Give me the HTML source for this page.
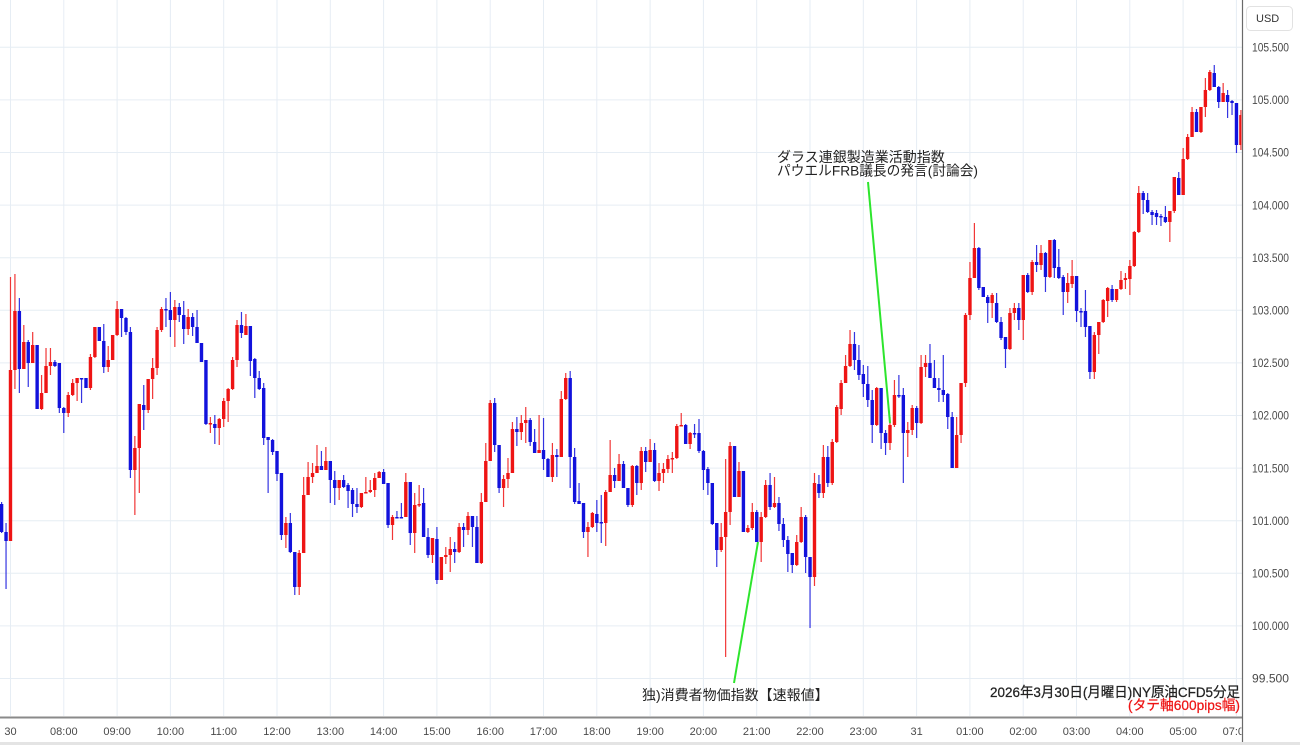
<!DOCTYPE html>
<html><head><meta charset="utf-8">
<style>
html,body{margin:0;padding:0;background:#fff;width:1300px;height:745px;overflow:hidden}
svg{display:block}
</style></head>
<body>
<svg id="c" width="1300" height="745" viewBox="0 0 1300 745" xmlns="http://www.w3.org/2000/svg" font-family="'Liberation Sans','Noto Sans CJK JP',sans-serif">
<defs><clipPath id="plot"><rect x="0" y="0" width="1241.5" height="716"/></clipPath>
<clipPath id="tax"><rect x="0" y="718" width="1241.5" height="27"/></clipPath></defs>
<rect x="0" y="0" width="1300" height="745" fill="#fff"/>
<g id="grid" stroke="#e6edf4" stroke-width="1"></g>
<g id="candles" clip-path="url(#plot)"></g>
<!-- green annotation lines -->
<line x1="868" y1="182" x2="890" y2="423" stroke="#2de52d" stroke-width="2"/>
<line x1="758" y1="542" x2="734" y2="683" stroke="#2de52d" stroke-width="2"/>
<!-- annotations -->
<g font-size="14" fill="#222">
<text x="777" y="162">ダラス連銀製造業活動指数</text>
<text x="777" y="175.5" textLength="201" lengthAdjust="spacingAndGlyphs">パウエルFRB議長の発言(討論会)</text>
<text x="642" y="700">独)消費者物価指数【速報値】</text>
<text x="990" y="697" textLength="250" lengthAdjust="spacingAndGlyphs" stroke="#222" stroke-width="0.25">2026年3月30日(月曜日)NY原油CFD5分足</text>
<text x="1128" y="710" fill="#ee1515" stroke="#ee1515" stroke-width="0.25" textLength="112" lengthAdjust="spacingAndGlyphs">(タテ軸600pips幅)</text>
</g>
<!-- axes -->
<line x1="0" y1="717.5" x2="1242" y2="717.5" stroke="#8a8a8a" stroke-width="2"/>
<line x1="1242.5" y1="0" x2="1242.5" y2="745" stroke="#6a6a6a" stroke-width="1.2"/>
<line x1="0" y1="743.5" x2="1300" y2="743.5" stroke="#e4e4e4" stroke-width="3"/>
<g id="plabels" font-size="12" fill="#4a4a4a"></g>
<g id="tlabels" font-size="11" fill="#4a4a4a" text-anchor="middle" clip-path="url(#tax)"></g>
<rect x="1246.5" y="6.5" width="46" height="24" rx="4" ry="4" fill="#fff" stroke="#e2e2e2" stroke-width="1"/>
<text x="1256" y="22" font-size="11" fill="#333">USD</text>
</svg>
<script>
(function(){
var NS="http://www.w3.org/2000/svg";
function el(n,a,p){var e=document.createElementNS(NS,n);for(var k in a)e.setAttribute(k,a[k]);p.appendChild(e);return e;}
var grid=document.getElementById('grid'),cg=document.getElementById('candles'),pl=document.getElementById('plabels'),tl=document.getElementById('tlabels');
var prices=["105.500","105.000","104.500","104.000","103.500","103.000","102.500","102.000","101.500","101.000","100.500","100.000","99.500"];
for(var i=0;i<prices.length;i++){var y=47.3+i*52.6;
 el('line',{x1:0,y1:y,x2:1242,y2:y},grid);
 var t=el('text',{x:1252,y:y+4.2,textLength:37,lengthAdjust:'spacingAndGlyphs'},pl);t.textContent=prices[i];}
var tlab=["30","08:00","09:00","10:00","11:00","12:00","13:00","14:00","15:00","16:00","17:00","18:00","19:00","20:00","21:00","22:00","23:00","31","01:00","02:00","03:00","04:00","05:00","07:00"];
for(var h=0;h<tlab.length;h++){var x=10.5+53.3*h;
 el('line',{x1:x,y1:0,x2:x,y2:716},grid);
 var t2=el('text',{x:x,y:735},tl);t2.textContent=tlab[h];}
var D=[504,532,502,533, 532,541,523,589, 541,370,277,541, 370,311,274,389, 311,369,298,393, 369,342,325,369, 342,363,340,387, 363,345,332,363, 345,409,345,409, 409,393,375,410,
393,366,348,393, 366,362,348,375, 362,366,360,367, 363,408,363,413, 408,413,407,433, 413,395,392,417, 395,383,379,396, 383,378,378,401, 378,379,378,403, 378,388,378,388,
388,357,354,390, 357,327,327,358, 327,341,327,341, 341,367,324,373, 367,360,346,372, 360,335,335,360, 335,309,301,336, 309,318,309,337, 318,332,317,335, 332,470,327,478,
470,448,436,515, 448,404,404,493, 405,410,385,430, 410,379,379,413, 379,368,358,399, 368,330,327,375, 330,309,307,332, 309,310,298,327, 310,320,292,337, 320,307,300,347,
307,315,303,322, 315,329,301,344, 329,317,309,335, 317,327,313,336, 327,343,310,343, 343,362,343,362, 360,424,360,425, 424,423,417,433, 424,428,415,444, 428,419,418,445,
419,401,398,427, 401,389,388,422, 389,360,357,390, 360,325,320,367, 325,333,312,338, 335,326,314,335, 326,361,326,376, 359,378,358,398, 378,389,371,390, 388,438,383,445,
437,440,437,493, 440,452,439,455, 451,474,451,481, 473,535,473,540, 535,523,517,548, 523,552,513,553, 552,587,552,595, 587,553,550,595, 553,495,477,553, 495,477,462,495,
477,473,463,483, 473,466,445,473, 466,470,451,470, 470,461,447,470, 461,480,461,503, 480,488,471,505, 488,480,480,500, 480,487,475,488, 485,491,483,508, 490,504,488,517,
504,507,488,513, 507,493,493,508, 493,492,477,493, 492,490,480,493, 490,478,473,497, 478,472,471,478, 472,484,469,484, 483,525,483,528, 525,517,515,540, 517,517,511,518,
517,517,503,517, 517,482,473,517, 482,533,482,545, 533,505,493,553, 505,504,485,507, 503,537,488,537, 537,555,528,558, 555,538,538,563, 539,580,527,584, 580,557,557,580,
557,555,547,564, 555,549,537,572, 549,552,542,563, 552,527,523,553, 527,530,523,547, 530,516,512,535, 516,527,516,547, 527,563,516,563, 563,502,493,564, 502,461,443,502,
461,403,400,461, 403,445,398,452, 445,488,445,493, 488,479,475,507, 479,473,458,488, 473,429,422,473, 429,432,417,446, 432,423,415,440, 423,420,407,443, 420,442,418,446,
442,453,429,453, 453,450,415,453, 450,459,418,470, 459,477,458,477, 477,455,443,482, 455,457,449,477, 457,399,391,457, 399,378,373,400, 378,457,371,488, 457,502,448,504,
501,504,483,504, 503,532,503,538, 532,527,522,557, 527,513,512,528, 514,523,500,532, 522,523,495,543, 523,492,490,546, 492,475,440,492, 475,481,468,488, 481,464,454,481,
464,488,461,488, 488,505,488,507, 505,466,465,507, 466,483,465,495, 483,451,447,490, 451,462,447,472, 462,450,439,462, 450,481,443,482, 481,473,463,491, 473,469,463,483,
469,459,455,473, 459,458,452,473, 458,426,424,459, 426,425,413,426, 425,444,424,444, 444,433,432,449, 433,433,424,438, 433,451,419,453, 451,470,450,490, 469,483,467,495,
483,524,483,525, 523,550,523,567, 550,537,523,552, 537,512,459,657, 512,446,442,525, 446,497,446,497, 497,471,462,497, 471,532,471,532, 532,528,525,533, 528,512,503,530,
512,542,510,542, 542,517,512,562, 517,485,480,518, 485,507,473,510, 507,503,477,508, 503,524,497,531, 524,540,518,547, 540,554,536,572, 553,565,553,573, 565,542,535,566,
542,517,507,543, 517,557,515,573, 557,577,557,628, 577,483,473,586, 484,493,475,498, 493,457,445,498, 457,483,446,487, 483,442,439,485, 442,407,405,443, 409,383,380,415,
383,366,355,383, 366,344,330,367, 344,360,332,370, 360,375,345,380, 374,384,365,397, 384,400,366,407, 400,425,390,443, 425,388,387,426, 388,433,388,449, 433,443,430,455,
443,425,417,450, 425,395,380,427, 395,395,375,398, 395,433,388,483, 433,430,422,457, 430,408,405,435, 408,423,406,438, 423,367,355,424, 367,363,355,377, 363,378,344,378,
378,388,360,388, 388,390,378,402, 390,395,355,402, 394,417,393,429, 417,468,412,468, 468,435,417,468, 435,383,383,443, 383,315,313,387, 315,278,262,320, 278,248,223,278,
248,288,247,290, 287,297,287,297, 297,303,295,323, 303,295,293,318, 303,322,293,323, 322,338,317,340, 337,349,337,368, 349,313,308,350, 313,308,303,320, 308,320,303,330,
320,275,275,340, 275,292,273,293, 292,262,260,295, 262,265,245,272, 265,253,245,270, 253,277,252,292, 277,240,240,278, 240,268,239,278, 267,278,249,279, 277,292,275,315,
292,283,273,303, 284,276,260,288, 276,311,276,322, 311,312,308,327, 311,327,290,337, 326,372,326,379, 372,335,332,379, 335,322,322,354, 322,300,299,323, 301,288,287,317,
289,300,285,302, 300,289,289,302, 289,280,271,290, 280,278,273,289, 279,266,260,295, 266,232,231,267, 232,193,186,233, 193,200,191,214, 200,212,193,213, 212,215,210,225,
213,217,210,225, 216,217,214,226, 217,222,206,223, 222,211,211,242, 211,177,177,213, 178,195,172,195, 195,159,148,195, 159,137,134,160, 137,112,107,137, 112,132,109,132,
132,107,107,133, 107,90,78,117, 90,72,70,91, 73,87,65,87, 87,102,86,108, 102,93,83,102, 95,102,90,118, 101,103,100,115, 103,145,103,153, 145,115,110,150];
var RED="#ee1414",BLUE="#1212dc";
for(var i=0;i<D.length/4;i++){
 var o=D[i*4],c=D[i*4+1],hi=D[i*4+2],lo=D[i*4+3];
 var x=1.6+i*4.442;
 var col=(c<o)?RED:BLUE;
 var top=Math.min(o,c),bot=Math.max(o,c);
 hi=Math.min(hi,top);lo=Math.max(lo,bot);
 el('rect',{x:x-0.6,y:hi,width:1.2,height:Math.max(lo-hi,1),fill:col,'fill-opacity':0.85},cg);
 el('rect',{x:x-1.7,y:top,width:3.4,height:Math.max(bot-top,1.5),fill:col},cg);
}
})();
</script>
</body></html>
